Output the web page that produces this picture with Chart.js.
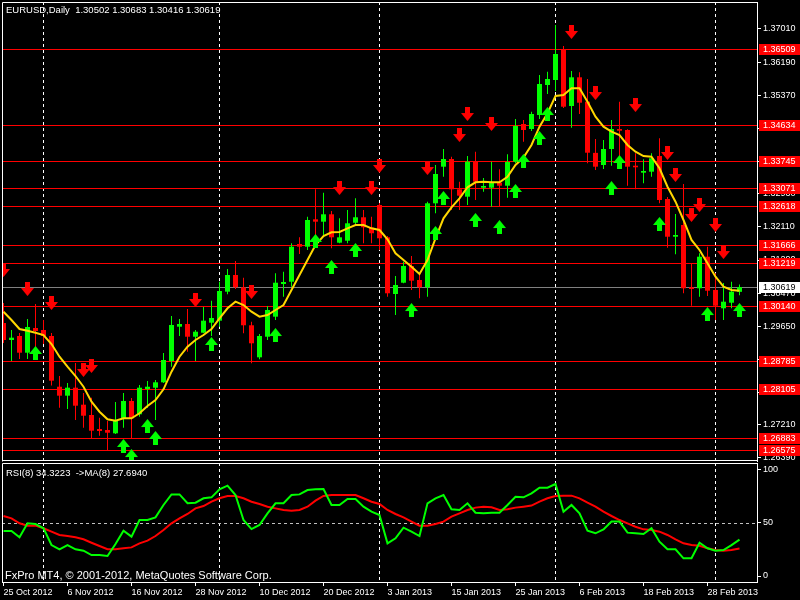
<!DOCTYPE html>
<html>
<head>
<meta charset="utf-8">
<script src="https://cdn.jsdelivr.net/npm/chart.js@4.4.1/dist/chart.umd.min.js"></script>
<style>
html, body { margin: 0; padding: 0; background: #000; }
#wrap { position: relative; width: 800px; height: 600px; background: #000; overflow: hidden; }
#wrap canvas { position: absolute; left: 0; }
#price { top: 0; }
#rsi { top: 462px; }
</style>
</head>
<body>
<div id="wrap">
<canvas id="price" width="800" height="462"></canvas>
<canvas id="rsi" width="800" height="138"></canvas>
</div>
<script>
// EURUSD Daily, 93 bars, 25 Oct 2012 .. 4 Mar 2013
var symbolTitle = "EURUSD,Daily";
var dateLabels = ["25 Oct 2012", "6 Nov 2012", "16 Nov 2012", "28 Nov 2012", "10 Dec 2012", "20 Dec 2012",
                  "3 Jan 2013", "15 Jan 2013", "25 Jan 2013", "6 Feb 2013", "18 Feb 2013", "28 Feb 2013"];
var dateIdx = [0, 8, 16, 24, 32, 40, 48, 56, 64, 72, 80, 88];
var monthStartIdx = [5, 27, 47, 69, 89];
var priceTicks = [1.37010, 1.36190, 1.35370, 1.34550, 1.33730, 1.32930, 1.32110, 1.31290,
                  1.30470, 1.29650, 1.28830, 1.28010, 1.27210, 1.26390];
var rsiTicks = [0, 50, 100];

var opens = [
  1.29731, 1.29310, 1.29409, 1.28995, 1.29607, 1.29557, 1.29409, 1.28153, 1.27931, 1.28129,
  1.27708, 1.27453, 1.27106, 1.27081, 1.26999, 1.27371, 1.27799, 1.27470, 1.28096, 1.28129,
  1.28262, 1.28790, 1.29639, 1.29706, 1.29391, 1.29490, 1.29738, 1.29788, 1.30506, 1.30919,
  1.30615, 1.29674, 1.28881, 1.29391, 1.29887, 1.30696, 1.30753, 1.31687, 1.31620, 1.32298,
  1.32239, 1.32422, 1.31719, 1.31768, 1.32214, 1.32348, 1.32090, 1.32652, 1.31852, 1.30449,
  1.30728, 1.31142, 1.30795, 1.30615, 1.32694, 1.33601, 1.33791, 1.33041, 1.32858, 1.33724,
  1.33080, 1.33080, 1.33204, 1.33130, 1.33724, 1.34658, 1.34534, 1.34881, 1.35623, 1.35747,
  1.36507, 1.35103, 1.35814, 1.35210, 1.33943, 1.33643, 1.34039, 1.34534, 1.34509, 1.33625,
  1.33452, 1.33477, 1.33865, 1.32801, 1.31867, 1.32157, 1.30615, 1.30590, 1.31372, 1.30548,
  1.30095, 1.30233, 1.30502
];
var highs = [
  1.30226, 1.29557, 1.29483, 1.29830, 1.30201, 1.29805, 1.29483, 1.28418, 1.28245, 1.28740,
  1.27997, 1.27881, 1.27386, 1.27304, 1.27774, 1.27997, 1.27873, 1.28195, 1.28294, 1.28319,
  1.28988, 1.29904, 1.29830, 1.30077, 1.29557, 1.30127, 1.30283, 1.30753, 1.31068, 1.31266,
  1.30852, 1.29763, 1.29458, 1.30151, 1.30961, 1.31001, 1.31704, 1.31852, 1.32362, 1.33041,
  1.32957, 1.32504, 1.32323, 1.32528, 1.32818, 1.32528, 1.32362, 1.32702, 1.31885, 1.30894,
  1.31248, 1.31389, 1.30961, 1.32734, 1.33643, 1.34039, 1.33848, 1.33229, 1.33865, 1.33972,
  1.33321, 1.33724, 1.33536, 1.33908, 1.34782, 1.34757, 1.34962, 1.35871, 1.35953, 1.37109,
  1.36589, 1.35970, 1.35938, 1.35772, 1.34286, 1.34262, 1.34757, 1.35210, 1.34527, 1.33932,
  1.33784, 1.33932, 1.34304, 1.32850, 1.32429, 1.33172, 1.31209, 1.31456, 1.31620, 1.30961,
  1.30721, 1.30753, 1.30683
];
var lows = [
  1.29235, 1.28790, 1.28839, 1.28839, 1.28814, 1.29211, 1.28181, 1.27633, 1.27601, 1.27329,
  1.27138, 1.26883, 1.26940, 1.26561, 1.26982, 1.27138, 1.26883, 1.27411, 1.27626, 1.27329,
  1.28245, 1.28649, 1.29409, 1.29020, 1.28790, 1.29483, 1.29409, 1.29639, 1.30441, 1.30572,
  1.29476, 1.28733, 1.28832, 1.29310, 1.29805, 1.30382, 1.30629, 1.31439, 1.31538, 1.31620,
  1.31867, 1.31580, 1.31704, 1.31704, 1.32182, 1.31704, 1.31704, 1.31538, 1.30382, 1.29929,
  1.30714, 1.30548, 1.30342, 1.30382, 1.32447, 1.33353, 1.32528, 1.32528, 1.32652, 1.32776,
  1.32982, 1.32610, 1.32610, 1.32833, 1.33692, 1.34220, 1.34484, 1.34782, 1.35401, 1.35475,
  1.35054, 1.34566, 1.34905, 1.33685, 1.33519, 1.33544, 1.33625, 1.33643, 1.33130, 1.33041,
  1.33190, 1.33353, 1.32694, 1.31595, 1.31431, 1.30466, 1.30159, 1.30382, 1.30399, 1.29805,
  1.29805, 1.30095, 1.30416
];
var closes = [
  1.29310, 1.29367, 1.28995, 1.29632, 1.29532, 1.29409, 1.28302, 1.27931, 1.28129, 1.27683,
  1.27435, 1.27064, 1.27056, 1.27014, 1.27304, 1.27799, 1.27371, 1.28129, 1.28153, 1.28262,
  1.28814, 1.29681, 1.29706, 1.29391, 1.29515, 1.29788, 1.29854, 1.30523, 1.30919, 1.30615,
  1.29674, 1.29228, 1.29409, 1.30052, 1.30728, 1.30746, 1.31620, 1.31620, 1.32281, 1.32239,
  1.32422, 1.31852, 1.31852, 1.32199, 1.32348, 1.32100, 1.31952, 1.31828, 1.30466, 1.30671,
  1.31142, 1.30778, 1.30615, 1.32694, 1.33420, 1.33791, 1.33041, 1.32883, 1.33724, 1.33229,
  1.33123, 1.33204, 1.33130, 1.33717, 1.34608, 1.34509, 1.34905, 1.35648, 1.35772, 1.36391,
  1.35086, 1.35814, 1.35185, 1.33947, 1.33601, 1.34039, 1.34534, 1.34492, 1.33601, 1.33586,
  1.33494, 1.33809, 1.32776, 1.31867, 1.31909, 1.30590, 1.30572, 1.31372, 1.30530, 1.30159,
  1.30258, 1.30506, 1.30619
];
var maValues = [
  1.30010, 1.29805, 1.29582, 1.29540, 1.29490, 1.29433, 1.29211, 1.28896, 1.28649, 1.28418,
  1.28153, 1.27782, 1.27534, 1.27346, 1.27312, 1.27371, 1.27371, 1.27495, 1.27675, 1.27824,
  1.28089, 1.28525, 1.28896, 1.29144, 1.29310, 1.29433, 1.29582, 1.29847, 1.30095, 1.30258,
  1.30176, 1.30010, 1.29887, 1.29929, 1.30052, 1.30176, 1.30548, 1.30919, 1.31290, 1.31662,
  1.31885, 1.31976, 1.31984, 1.32075, 1.32157, 1.32157, 1.32075, 1.32033, 1.31803, 1.31456,
  1.31290, 1.31125, 1.30944, 1.31290, 1.31828, 1.32323, 1.32595, 1.32818, 1.33091, 1.33214,
  1.33229, 1.33214, 1.33214, 1.33353, 1.33643, 1.33828, 1.34138, 1.34591, 1.34923, 1.35351,
  1.35376, 1.35542, 1.35542, 1.35210, 1.34839, 1.34591, 1.34467, 1.34385, 1.34138, 1.33972,
  1.33865, 1.33848, 1.33561, 1.33105, 1.32734, 1.32281, 1.31786, 1.31538, 1.31209, 1.30877,
  1.30629, 1.30548, 1.30530
];
var rsiValues = [
  42.5, 42.5, 36.5, 49.7, 49.0, 45.0, 29.2, 25.2, 29.2, 25.2,
  23.9, 19.8, 19.8, 18.9, 30.2, 42.8, 37.1, 52.8, 52.8, 55.3,
  67.0, 77.0, 77.0, 68.6, 69.2, 73.3, 74.2, 81.8, 85.2, 76.4,
  52.8, 44.3, 48.1, 59.1, 68.6, 68.6, 76.4, 77.0, 81.1, 81.8,
  82.1, 67.0, 67.0, 72.6, 72.6, 65.4, 60.7, 57.5, 30.8, 35.5,
  45.6, 41.8, 37.7, 68.6, 73.3, 76.4, 62.9, 62.3, 68.6, 59.7,
  59.1, 59.7, 59.7, 67.0, 74.8, 74.2, 78.0, 83.3, 83.3, 86.8,
  60.7, 67.0, 59.1, 42.8, 40.3, 44.0, 51.3, 51.3, 40.9, 40.3,
  39.6, 45.0, 32.4, 25.2, 25.2, 16.7, 16.7, 31.4, 26.1, 23.9,
  24.5, 29.2, 34.3
];
var rsiMaValues = [
  56.6, 54.4, 49.7, 47.5, 47.5, 45.0, 41.8, 38.7, 37.7, 36.5,
  34.6, 31.4, 28.3, 25.2, 25.2, 26.1, 27.0, 30.8, 33.3, 37.7,
  43.4, 49.7, 54.4, 58.5, 63.8, 66.0, 70.1, 73.3, 75.5, 75.5,
  73.3, 70.1, 67.9, 65.4, 63.8, 62.3, 61.6, 62.3, 65.4, 71.1,
  75.5, 76.4, 76.4, 76.4, 76.4, 73.3, 70.1, 67.9, 62.3, 58.5,
  55.3, 51.3, 47.5, 47.5, 49.1, 51.3, 56.0, 59.1, 62.3, 64.5,
  65.4, 64.8, 62.3, 62.9, 64.5, 65.4, 66.4, 70.1, 73.3, 75.5,
  75.8, 75.8, 73.3, 69.2, 65.4, 60.7, 56.6, 52.8, 49.7, 46.5,
  44.0, 43.4, 41.8, 38.7, 34.6, 30.8, 29.2, 28.6, 26.1, 24.5,
  23.9, 24.5, 26.0
];
var downArrowIdx = [0, 3, 6, 10, 11, 24, 31, 42, 46, 47, 53, 57, 58, 61, 71, 74, 79, 83, 84, 86, 87, 89, 90];
var downArrowPrice = [1.31043, 1.30572, 1.30226, 1.28567, 1.28666, 1.30300, 1.30498, 1.33073, 1.33073, 1.33618,
                      1.33568, 1.34385, 1.34905, 1.34658, 1.36936, 1.35425, 1.35128, 1.33940, 1.33395, 1.32405,
                      1.32652, 1.32157, 1.31488];
var upArrowIdx = [4, 15, 16, 18, 19, 26, 34, 39, 41, 44, 51, 54, 55, 59, 62, 64, 65, 67, 68, 76, 77, 82, 88, 92];
var upArrowPrice = [1.28988, 1.26685, 1.26437, 1.27180, 1.26883, 1.29211, 1.29433, 1.31761, 1.31117, 1.31538,
                    1.30052, 1.31959, 1.32826, 1.32281, 1.32107, 1.32999, 1.33742, 1.34311, 1.34905, 1.33073,
                    1.33717, 1.32182, 1.29953, 1.30052];
var levelLines = [1.36509, 1.34634, 1.33745, 1.33071, 1.32618, 1.31666, 1.31219, 1.30140, 1.28785, 1.28105, 1.26883, 1.26575];
var bidPrice = 1.30619;
var rsiText = "RSI(8) 34.3223  ->MA(8) 27.6940";
var copyrightText = "FxPro MT4, \u00A9 2001-2012, MetaQuotes Software Corp.";

var UP = '#00FF00', DOWN = '#FF0000';
var smallFont = '9px "Liberation Sans", Arial, sans-serif';
var xMin = -0.1875, xMax = 94.1875;

function makeArrow(color, up)
{
    var c = document.createElement('canvas');
    c.width = 13; c.height = 14;
    var g = c.getContext('2d');
    g.fillStyle = color;
    if (up) { g.translate(0, 14); g.scale(1, -1); }
    g.fillRect(4, 0, 5, 7);
    g.beginPath();
    g.moveTo(0, 6); g.lineTo(13, 6); g.lineTo(6.5, 14);
    g.closePath();
    g.fill();
    return c;
}

var candleColors = opens.map(function(o, i){ return closes[i] >= o ? UP : DOWN; });
var wickData = lows.map(function(l, i){ return {x: i, y: [l, highs[i]]}; });
var bodyData = opens.map(function(o, i){ return {x: i, y: [o, closes[i]]}; });
var maData = maValues.map(function(v, i){ return {x: i, y: v}; });
var downData = downArrowIdx.map(function(v, k){ return {x: v, y: downArrowPrice[k]}; });
var upData = upArrowIdx.map(function(v, k){ return {x: v, y: upArrowPrice[k]}; });
var rsiData = rsiValues.map(function(v, i){ return {x: i, y: v}; });
var rsiMaData = rsiMaValues.map(function(v, i){ return {x: i, y: v}; });

// keep the plot area at the exact pixel box, no room reserved for edge labels
function fixWidth(s)
{
    s.width = 43;
    s.paddingTop = 0; s.paddingBottom = 0;
}
function fixHeight(s)
{
    s.height = 18;
    s.paddingLeft = 0; s.paddingRight = 0;
}

function drawMonthLines(chart)
{
    var ctx = chart.ctx, a = chart.chartArea, xs = chart.scales.x;
    ctx.strokeStyle = '#ffffff';
    ctx.lineWidth = 1;
    ctx.setLineDash([3, 3]);
    monthStartIdx.forEach(function(i){
        var x = Math.floor(xs.getPixelForValue(i)) + 0.5;
        ctx.beginPath(); ctx.moveTo(x, a.top); ctx.lineTo(x, a.bottom); ctx.stroke();
    });
    ctx.setLineDash([]);
}

function drawFrame(chart, withBottom)
{
    var ctx = chart.ctx, a = chart.chartArea;
    ctx.save();
    ctx.strokeStyle = '#ffffff';
    ctx.lineWidth = 1;
    ctx.beginPath();
    ctx.moveTo(a.left + 0.5, a.bottom + (withBottom ? 0.5 : 0));
    ctx.lineTo(a.left + 0.5, a.top + 0.5);
    ctx.lineTo(a.right, a.top + 0.5);
    if (withBottom) { ctx.moveTo(a.left, a.bottom - 0.5); ctx.lineTo(a.right, a.bottom - 0.5); }
    ctx.stroke();
    ctx.restore();
}

function drawPriceBox(ctx, y, text, fill, color)
{
    var yy = Math.round(y);
    ctx.fillStyle = fill;
    ctx.fillRect(759, yy - 5, 41, 11);
    ctx.fillStyle = color;
    ctx.font = smallFont;
    ctx.textAlign = 'left';
    ctx.textBaseline = 'middle';
    ctx.fillText(text, 763, yy + 0.5);
}

var pricePanel = {
    id: 'pricePanel',
    beforeDatasetsDraw: function(chart)
    {
        var ctx = chart.ctx, a = chart.chartArea, ys = chart.scales.y;
        ctx.save();
        ctx.beginPath();
        ctx.rect(a.left, a.top, a.right - a.left, a.bottom - a.top);
        ctx.clip();
        drawMonthLines(chart);
        ctx.lineWidth = 1;
        ctx.strokeStyle = '#FF0000';
        levelLines.forEach(function(p){
            var y = Math.round(ys.getPixelForValue(p)) + 0.5;
            ctx.beginPath(); ctx.moveTo(a.left, y); ctx.lineTo(a.right, y); ctx.stroke();
        });
        ctx.strokeStyle = '#808080';
        var by = Math.round(ys.getPixelForValue(bidPrice)) + 0.5;
        ctx.beginPath(); ctx.moveTo(a.left, by); ctx.lineTo(a.right, by); ctx.stroke();
        ctx.restore();
    },
    afterDraw: function(chart)
    {
        var ctx = chart.ctx, ys = chart.scales.y;
        var last = opens.length - 1;
        drawFrame(chart, true);
        ctx.save();
        levelLines.forEach(function(p){
            drawPriceBox(ctx, ys.getPixelForValue(p), p.toFixed(5), '#FF0000', '#ffffff');
        });
        drawPriceBox(ctx, ys.getPixelForValue(bidPrice), bidPrice.toFixed(5), '#ffffff', '#000000');
        ctx.fillStyle = '#ffffff';
        ctx.font = '9.5px "Liberation Sans", Arial, sans-serif';
        ctx.textAlign = 'left';
        ctx.textBaseline = 'middle';
        ctx.fillText(symbolTitle + '  ' + opens[last].toFixed(5) + ' ' + highs[last].toFixed(5) + ' ' +
                     lows[last].toFixed(5) + ' ' + closes[last].toFixed(5), 6, 10.5);
        ctx.restore();
    }
};

var rsiPanel = {
    id: 'rsiPanel',
    beforeDatasetsDraw: function(chart)
    {
        var ctx = chart.ctx, a = chart.chartArea, ys = chart.scales.y;
        ctx.save();
        drawMonthLines(chart);
        ctx.strokeStyle = '#c0c0c0';
        ctx.setLineDash([3, 3]);
        var y = Math.round(ys.getPixelForValue(50)) + 0.5;
        ctx.beginPath(); ctx.moveTo(a.left, y); ctx.lineTo(a.right, y); ctx.stroke();
        ctx.restore();
    },
    afterDraw: function(chart)
    {
        var ctx = chart.ctx;
        drawFrame(chart, false);
        ctx.save();
        ctx.fillStyle = '#ffffff';
        ctx.textAlign = 'left';
        ctx.textBaseline = 'middle';
        ctx.font = '9.5px "Liberation Sans", Arial, sans-serif';
        ctx.fillText(rsiText, 6, 11.5);
        ctx.font = '11px "Liberation Sans", Arial, sans-serif';
        ctx.fillText(copyrightText, 5, 114);
        ctx.restore();
    }
};

var axisFont = {family: '"Liberation Sans", Arial, sans-serif', size: 9};

new Chart(document.getElementById('price'), {
    type: 'bar',
    data: {
        datasets: [
            {type: 'bar', label: 'wicks', data: wickData, backgroundColor: candleColors,
             barThickness: 1, grouped: false, inflateAmount: 0, order: 4},
            {type: 'bar', label: 'bodies', data: bodyData, backgroundColor: candleColors,
             barThickness: 5, grouped: false, inflateAmount: 0, minBarLength: 1, order: 3},
            {type: 'line', label: 'MA', data: maData, borderColor: '#FFD700', borderWidth: 2,
             pointRadius: 0, tension: 0, order: 2},
            {type: 'line', label: 'sell', data: downData, showLine: false,
             pointStyle: makeArrow(DOWN, false), pointRadius: 6, order: 1},
            {type: 'line', label: 'buy', data: upData, showLine: false,
             pointStyle: makeArrow(UP, true), pointRadius: 6, order: 1}
        ]
    },
    options: {
        responsive: false,
        maintainAspectRatio: false,
        devicePixelRatio: 1,
        animation: false,
        events: [],
        layout: {autoPadding: false, padding: {left: 2, top: 2, right: 0, bottom: 1}},
        plugins: {legend: {display: false}, tooltip: {enabled: false}},
        scales: {
            x: {type: 'linear', min: xMin, max: xMax, display: false, offset: false, grid: {offset: false}},
            y: {
                position: 'right',
                min: 1.263136, max: 1.376785,
                afterFit: fixWidth,
                afterBuildTicks: function(s){ s.ticks = priceTicks.map(function(v){ return {value: v}; }); },
                ticks: {color: '#ffffff', font: axisFont, padding: 2, autoSkip: false,
                        callback: function(v){ return v.toFixed(5); }},
                grid: {drawOnChartArea: false, color: '#ffffff', tickLength: 4},
                border: {color: '#ffffff'}
            }
        }
    },
    plugins: [pricePanel]
});

new Chart(document.getElementById('rsi'), {
    type: 'line',
    data: {
        datasets: [
            {label: 'MA(8)', data: rsiMaData, borderColor: '#FF0000', borderWidth: 2, pointRadius: 0, tension: 0, order: 2},
            {label: 'RSI(8)', data: rsiData, borderColor: '#00FF00', borderWidth: 2, pointRadius: 0, tension: 0, order: 1}
        ]
    },
    options: {
        responsive: false,
        maintainAspectRatio: false,
        devicePixelRatio: 1,
        animation: false,
        events: [],
        layout: {autoPadding: false, padding: {left: 2, top: 1, right: 0, bottom: 0}},
        plugins: {legend: {display: false}, tooltip: {enabled: false}},
        scales: {
            x: {
                type: 'linear', min: xMin, max: xMax, offset: false,
                afterFit: fixHeight,
                afterBuildTicks: function(s){ s.ticks = dateIdx.map(function(v){ return {value: v}; }); },
                ticks: {color: '#ffffff', font: axisFont, align: 'start', autoSkip: false, maxRotation: 0, padding: 1,
                        callback: function(v){ return dateLabels[dateIdx.indexOf(v)]; }},
                grid: {drawOnChartArea: false, color: '#ffffff', tickLength: 4, offset: false},
                border: {color: '#ffffff'}
            },
            y: {
                position: 'right',
                min: -5.66, max: 106.6,
                afterFit: fixWidth,
                afterBuildTicks: function(s){ s.ticks = rsiTicks.map(function(v){ return {value: v}; }); },
                ticks: {color: '#ffffff', font: axisFont, padding: 2, autoSkip: false},
                grid: {drawOnChartArea: false, color: '#ffffff', tickLength: 4},
                border: {color: '#ffffff'}
            }
        }
    },
    plugins: [rsiPanel]
});
</script>
</body>
</html>
